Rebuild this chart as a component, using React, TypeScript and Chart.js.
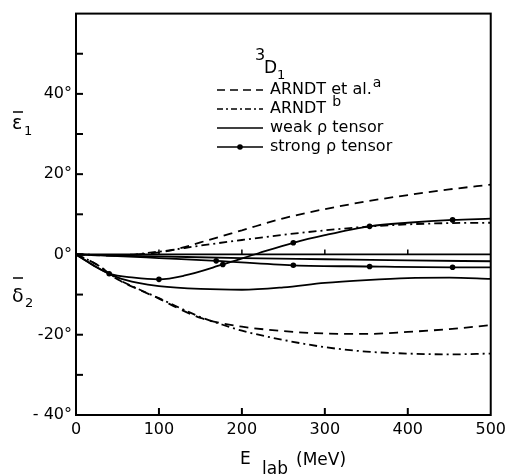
import React, { useEffect, useRef } from "react";
import { Chart, registerables } from "chart.js";
Chart.register(...registerables);

// ---- data (E_lab in MeV, angle in degrees) ----
const arndtAEpsX = [0, 25, 50, 75, 100, 125, 150, 200, 250, 300, 350, 400, 450, 500];
const arndtAEpsY = [0, -0.2, -0.3, 0, 0.5, 1.5, 3, 6, 9, 11.3, 13.2, 14.8, 16.2, 17.4];

const arndtBEpsX = [0, 50, 100, 150, 200, 250, 300, 350, 400, 450, 500];
const arndtBEpsY = [0, -0.2, 0.7, 2.2, 3.6, 4.9, 6, 6.9, 7.5, 7.8, 7.9];

const arndtADelX = [0, 25, 50, 75, 100, 125, 150, 175, 200, 250, 300, 350, 400, 450, 500];
const arndtADelY = [0, -2.5, -6.2, -8.7, -11, -13.6, -15.8, -17.1, -18, -19.1, -19.7, -19.8, -19.3, -18.6, -17.6];

const arndtBDelX = [0, 25, 50, 75, 100, 125, 150, 175, 200, 250, 300, 350, 400, 450, 500];
const arndtBDelY = [0, -2.5, -6.1, -8.6, -10.9, -13.3, -15.6, -17.4, -19, -21.3, -23.1, -24.2, -24.7, -24.9, -24.7];

const weakEpsX = [0, 50, 100, 200, 300, 400, 500];
const weakEpsY = [0, -0.3, -0.5, -0.9, -1.2, -1.5, -1.7];

const weakDelX = [0, 25, 50, 75, 100, 150, 200, 250, 300, 350, 400, 450, 500];
const weakDelY = [0, -3.2, -5.7, -7.1, -7.9, -8.6, -8.8, -8.2, -7.1, -6.4, -5.9, -5.8, -6.1];

const strongEpsX = [0, 20, 40, 70, 100, 130, 177, 220, 262, 300, 354, 400, 454, 500];
const strongEpsY = [0, -2.6, -4.8, -5.8, -6.2, -5.3, -2.5, 0.3, 2.9, 4.8, 7.0, 7.9, 8.6, 8.9];
const strongEpsDots = [40, 100, 177, 262, 354, 454];

const strongDelX = [0, 50, 100, 169, 262, 354, 454, 500];
const strongDelY = [0, -0.4, -0.9, -1.6, -2.7, -3.0, -3.2, -3.2];
const strongDelDots = [169, 262, 354, 454];

const xTickValues = [0, 100, 200, 300, 400, 500];
const yLabelled: Record<number, string> = { 40: "40°", 20: "20°", 0: "0°", "-20": "-20°", "-40": "- 40°" } as any;
const yMinorTicks = [50, 40, 30, 20, 10, 0, -10, -20, -30];
const xInnerTicks = [100, 200, 300, 400];

const FONT = "'DejaVu Sans', sans-serif";

function pts(xs: number[], ys: number[]) {
  return xs.map((x, i) => ({ x, y: ys[i] }));
}

function ds(xs: number[], ys: number[], dash: number[], dots?: number[]) {
  return {
    data: pts(xs, ys),
    borderColor: "#000",
    backgroundColor: "#000",
    borderWidth: 1.8,
    borderDash: dash,
    cubicInterpolationMode: "monotone" as const,
    pointRadius: (c: any) => (dots && c.raw && dots.includes(c.raw.x) ? 2.8 : 0),
    pointBorderWidth: 0,
    pointHoverRadius: 0,
  };
}

const deco = {
  id: "deco",
  afterDatasetsDraw(chart: any) {
    const { ctx, chartArea: a, scales } = chart;
    const x = scales.x, y = scales.y;
    ctx.save();
    ctx.strokeStyle = "#000";
    ctx.fillStyle = "#000";
    ctx.lineWidth = 2;
    ctx.setLineDash([]);
    ctx.strokeRect(a.left, a.top, a.right - a.left, a.bottom - a.top);
    const line = (x1: number, y1: number, x2: number, y2: number) => {
      ctx.beginPath(); ctx.moveTo(x1, y1); ctx.lineTo(x2, y2); ctx.stroke();
    };
    for (const v of yMinorTicks) {
      const py = y.getPixelForValue(v);
      line(a.left, py, a.left + 7, py);
    }
    for (const v of xInnerTicks) {
      const px = x.getPixelForValue(v);
      line(px, a.bottom, px, a.bottom - 7);
    }
    // zero line with small ticks
    ctx.lineWidth = 1.8;
    const y0 = y.getPixelForValue(0);
    line(a.left, y0, a.right, y0);
    ctx.lineWidth = 1.5;
    for (const v of xInnerTicks) {
      const px = x.getPixelForValue(v);
      line(px, y0, px, y0 - 5);
    }

    // legend
    ctx.textBaseline = "alphabetic";
    ctx.textAlign = "left";
    ctx.font = `16px ${FONT}`;
    ctx.fillText("3", 255, 60);
    ctx.font = `17px ${FONT}`;
    ctx.fillText("D", 264, 73);
    ctx.font = `13px ${FONT}`;
    ctx.fillText("1", 277, 79);

    const lx1 = 217, lx2 = 263, tx = 270;
    const rows = [
      { base: 94, dash: [8, 5], label: "ARNDT et al.", sup: "a" },
      { base: 113, dash: [6, 3, 2, 3], label: "ARNDT ", sup: "b" },
      { base: 132, dash: [], label: "weak ρ tensor", sup: "" },
      { base: 151, dash: [], label: "strong ρ tensor", sup: "", dot: true },
    ];
    for (const r of rows) {
      ctx.lineWidth = 1.6;
      ctx.setLineDash(r.dash);
      line(lx1, r.base - 4, lx2, r.base - 4);
      ctx.setLineDash([]);
      if ((r as any).dot) {
        ctx.beginPath(); ctx.arc((lx1 + lx2) / 2, r.base - 4, 2.8, 0, Math.PI * 2); ctx.fill();
      }
      ctx.font = `16px ${FONT}`;
      ctx.fillText(r.label, tx, r.base);
      const w = ctx.measureText(r.label).width;
      if (r.sup) {
        ctx.font = `14px ${FONT}`;
        ctx.fillText(r.sup, tx + w + 1, r.base - 7);
      }
    }

    // axis titles
    ctx.font = `17px ${FONT}`;
    ctx.fillText("E", 240, 464);
    ctx.fillText("lab", 262, 474);
    ctx.fillText("(MeV)", 296, 465);

    ctx.font = `19px ${FONT}`;
    ctx.fillText("ε", 12, 129);
    ctx.lineWidth = 1.5;
    line(13, 112, 23, 112);
    ctx.font = `13px ${FONT}`;
    ctx.fillText("1", 24, 135);

    ctx.font = `19px ${FONT}`;
    ctx.fillText("δ", 12, 302);
    line(13, 278, 23, 278);
    ctx.font = `13px ${FONT}`;
    ctx.fillText("2", 25, 307);
    ctx.restore();
  },
};

export default function App() {
  const ref = useRef<HTMLCanvasElement>(null);
  useEffect(() => {
    if (!ref.current) return;
    const chart = new Chart(ref.current, {
      type: "line",
      data: {
        datasets: [
          ds(arndtAEpsX, arndtAEpsY, [9, 6]),
          ds(arndtBEpsX, arndtBEpsY, [8, 4, 2, 4]),
          ds(arndtADelX, arndtADelY, [9, 6]),
          ds(arndtBDelX, arndtBDelY, [8, 4, 2, 4]),
          ds(weakEpsX, weakEpsY, []),
          ds(weakDelX, weakDelY, []),
          ds(strongEpsX, strongEpsY, [], strongEpsDots),
          ds(strongDelX, strongDelY, [], strongDelDots),
        ] as any,
      },
      options: {
        responsive: false,
        animation: false,
        events: [],
        layout: { padding: { left: 0, right: 14, top: 10, bottom: 0 } },
        plugins: { legend: { display: false }, tooltip: { enabled: false } },
        scales: {
          x: {
            type: "linear",
            min: 0,
            max: 500,
            afterBuildTicks: (s: any) => { s.ticks = xTickValues.map((v) => ({ value: v })); },
            afterFit: (s: any) => { s.height = 61; },
            grid: { display: false, drawTicks: false },
            border: { display: false },
            ticks: { color: "#000", font: { family: FONT, size: 16 }, padding: 5, maxRotation: 0, callback: (v: any) => String(v) },
          },
          y: {
            type: "linear",
            min: -40,
            max: 60,
            afterBuildTicks: (s: any) => { s.ticks = [-40, -20, 0, 20, 40].map((v) => ({ value: v })); },
            afterFit: (s: any) => { s.width = 76; },
            grid: { display: false, drawTicks: false },
            border: { display: false },
            ticks: { color: "#000", font: { family: FONT, size: 16 }, padding: 4, callback: (v: any) => yLabelled[v] ?? "" },
          },
        },
      },
      plugins: [deco],
    });
    return () => chart.destroy();
  }, []);
  return (
    <div style={{ position: "absolute", left: 0, top: 0, width: 511, height: 476, background: "#fff" }}>
      <canvas ref={ref} width={511} height={476} style={{ display: "block" }} />
    </div>
  );
}
